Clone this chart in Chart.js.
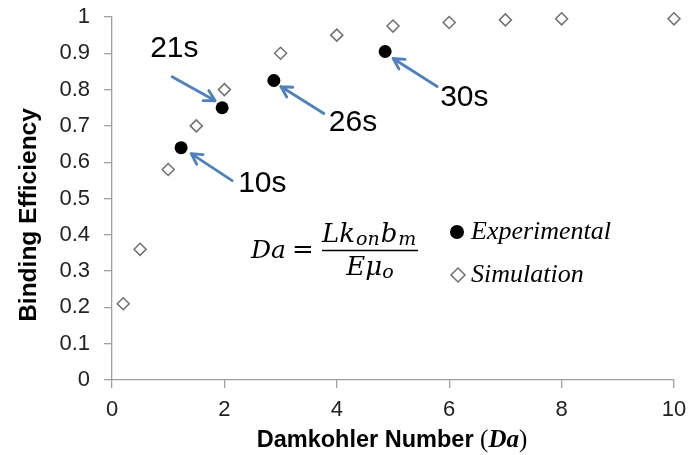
<!DOCTYPE html>
<html>
<head>
<meta charset="utf-8">
<script src="https://cdn.jsdelivr.net/npm/chart.js@4.4.1/dist/chart.umd.min.js"></script>
<style>
  html, body { margin: 0; padding: 0; background: #fff; }
  #wrap { width: 689px; height: 455px; position: relative; }
</style>
</head>
<body>
<div id="wrap"><canvas id="efficiencyChart"></canvas></div>
<script>
/* Binding efficiency vs. Damkohler number – simulation curve + experimental points */

const simDa  = [0.2, 0.5, 1, 1.5, 2, 3, 4, 5, 6, 7, 8, 10];
const simEff = [0.21, 0.36, 0.58, 0.70, 0.80, 0.90, 0.95, 0.975, 0.985, 0.992, 0.995, 0.995];

const expDa    = [1.23, 1.96, 2.88, 4.86];
const expEff   = [0.64, 0.75, 0.825, 0.905];
const expTimes = ['10s', '21s', '26s', '30s'];

const xTicks = [0, 2, 4, 6, 8, 10];
const yTicks = [0, 0.1, 0.2, 0.3, 0.4, 0.5, 0.6, 0.7, 0.8, 0.9, 1];

const AXIS_GREY  = '#a0a0a0';
const ARROW_BLUE = '#4f81bd';
const SANS  = "'Liberation Sans', Arial, sans-serif";
const SERIF = "'Liberation Serif', 'Times New Roman', serif";
const MATH  = "'DejaVu Serif', serif";

/* pixel offsets (from each experimental point) for arrow head, arrow tail, label */
const calloutLayout = [
  { head: [10, 6],  tail: [51, 33],   text: [57, 44] },
  { head: [-7, -7], tail: [-50, -31], text: [-72, -51] },
  { head: [7, 6],   tail: [50, 33],   text: [55, 50] },
  { head: [8, 7],   tail: [52, 35],   text: [55, 55] }
];

function drawArrow(ctx, x0, y0, x1, y1) {
  const ang = Math.atan2(y1 - y0, x1 - x0);
  const len = 12, spread = 0.5;
  ctx.beginPath();
  ctx.moveTo(x0, y0);
  ctx.lineTo(x1, y1);
  ctx.moveTo(x1 - len * Math.cos(ang - spread), y1 - len * Math.sin(ang - spread));
  ctx.lineTo(x1, y1);
  ctx.lineTo(x1 - len * Math.cos(ang + spread), y1 - len * Math.sin(ang + spread));
  ctx.stroke();
}

/* Callout arrows with timestamps */
const calloutPlugin = {
  id: 'callouts',
  afterDatasetsDraw(chart) {
    const ctx = chart.ctx;
    const pts = chart.getDatasetMeta(0).data;
    ctx.save();
    ctx.strokeStyle = ARROW_BLUE;
    ctx.lineWidth = 2.8;
    ctx.lineCap = 'round';
    ctx.lineJoin = 'round';
    ctx.fillStyle = '#000';
    ctx.font = '30px ' + SANS;
    ctx.textBaseline = 'alphabetic';
    pts.forEach((p, i) => {
      const c = calloutLayout[i];
      drawArrow(ctx, p.x + c.tail[0], p.y + c.tail[1], p.x + c.head[0], p.y + c.head[1]);
      ctx.fillText(expTimes[i], p.x + c.text[0], p.y + c.text[1]);
    });
    ctx.restore();
  }
};

/* Equation, legend and axis titles */
const decorPlugin = {
  id: 'decor',
  afterDraw(chart) {
    const ctx = chart.ctx;
    ctx.save();
    ctx.fillStyle = '#000';
    ctx.textBaseline = 'alphabetic';

    // Da = L k_on b_m / (E mu_o)
    const big = 'italic 26px ' + MATH, small = 'italic 19px ' + MATH;
    ctx.font = 'italic 25px ' + MATH;
    ctx.fillText('Da', 251, 258);
    ctx.font = '26px ' + MATH;
    ctx.fillText('=', 292, 258);
    let x = 322;
    const numParts = [['Lk', big, 0], ['on', small, 3], ['b', big, 0], ['m', small, 3]];
    numParts.forEach(([t, f, dy]) => {
      ctx.font = f;
      ctx.fillText(t, x, 242 + dy);
      x += ctx.measureText(t).width + 1;
    });
    const barEnd = Math.max(x, 418);
    ctx.strokeStyle = '#000';
    ctx.lineWidth = 1.5;
    ctx.beginPath();
    ctx.moveTo(322, 250.5);
    ctx.lineTo(barEnd, 250.5);
    ctx.stroke();
    ctx.font = big;
    const wE = ctx.measureText('Eμ').width;
    ctx.font = small;
    const wo = ctx.measureText('o').width;
    const dx = (322 + barEnd) / 2 - (wE + wo) / 2;
    ctx.font = big;
    ctx.fillText('Eμ', dx, 275);
    ctx.font = small;
    ctx.fillText('o', dx + wE, 278);

    // legend
    const sim = chart.data.datasets[1];
    ctx.beginPath();
    ctx.arc(457, 232, 7, 0, Math.PI * 2);
    ctx.fill();
    ctx.beginPath();
    ctx.moveTo(458, 268); ctx.lineTo(465, 275); ctx.lineTo(458, 282); ctx.lineTo(451, 275);
    ctx.closePath();
    ctx.fillStyle = sim.backgroundColor;
    ctx.fill();
    ctx.strokeStyle = sim.borderColor;
    ctx.lineWidth = sim.borderWidth;
    ctx.stroke();
    ctx.fillStyle = '#000';
    ctx.font = 'italic 26px ' + SERIF;
    ctx.fillText(chart.data.datasets[0].label, 471, 239);
    ctx.fillText(sim.label, 471, 282);

    // y title
    ctx.save();
    ctx.translate(29, 215);
    ctx.rotate(-Math.PI / 2);
    ctx.font = 'bold 24.5px ' + SANS;
    ctx.textAlign = 'center';
    ctx.textBaseline = 'middle';
    ctx.fillText('Binding Efficiency', 0, 0);
    ctx.restore();

    // x title: bold sans text with italic serif symbol
    const t1 = 'Damkohler Number ', t2 = '(', t3 = 'Da', t4 = ')';
    const f1 = 'bold 23.5px ' + SANS, f2 = '25px ' + SERIF, f3 = 'italic bold 25px ' + SERIF;
    ctx.font = f1; const w1 = ctx.measureText(t1).width;
    ctx.font = f2; const w2 = ctx.measureText(t2).width, w4 = ctx.measureText(t4).width;
    ctx.font = f3; const w3 = ctx.measureText(t3).width;
    let tx = 392 - (w1 + w2 + w3 + w4) / 2;
    const ty = 447;
    ctx.font = f1; ctx.fillText(t1, tx, ty); tx += w1;
    ctx.font = f2; ctx.fillText(t2, tx, ty); tx += w2;
    ctx.font = f3; ctx.fillText(t3, tx, ty); tx += w3;
    ctx.font = f2; ctx.fillText(t4, tx, ty);
    ctx.restore();
  }
};

const axisStyle = {
  grid: { drawOnChartArea: false, drawTicks: true, tickLength: 8, color: AXIS_GREY, lineWidth: 1.3 },
  border: { display: true, color: AXIS_GREY, width: 1.3 }
};

new Chart(document.getElementById('efficiencyChart'), {
  type: 'scatter',
  data: {
    datasets: [
      {
        label: 'Experimental',
        data: expDa.map((v, i) => ({ x: v, y: expEff[i] })),
        pointStyle: 'circle',
        pointRadius: 6.5,
        backgroundColor: '#000',
        borderColor: '#000',
        borderWidth: 0,
        clip: false
      },
      {
        label: 'Simulation',
        data: simDa.map((v, i) => ({ x: v, y: simEff[i] })),
        pointStyle: 'rectRot',
        pointRadius: 6,
        backgroundColor: '#fff',
        borderColor: '#707070',
        borderWidth: 1.5,
        clip: false
      }
    ]
  },
  options: {
    responsive: true,
    maintainAspectRatio: false,
    animation: false,
    layout: { padding: { top: 17, right: 15, left: 0, bottom: 0 } },
    plugins: { legend: { display: false }, tooltip: { enabled: false } },
    scales: {
      x: {
        type: 'linear', min: 0, max: 10,
        afterBuildTicks: s => { s.ticks = xTicks.map(v => ({ value: v })); },
        // fixed axis box; drop the label overhang so the plot area is set by layout padding
        afterFit: s => { s.height = 75; s.paddingLeft = 0; s.paddingRight = 0; },
        ticks: { font: { family: SANS, size: 22 }, color: '#222', padding: 9, maxRotation: 0, callback: v => String(v) },
        ...axisStyle
      },
      y: {
        type: 'linear', min: 0, max: 1,
        afterBuildTicks: s => { s.ticks = yTicks.map(v => ({ value: v })); },
        afterFit: s => { s.width = 112; s.paddingTop = 0; s.paddingBottom = 0; },
        ticks: { font: { family: SANS, size: 22 }, color: '#222', padding: 14, callback: v => String(v) },
        ...axisStyle
      }
    }
  },
  plugins: [calloutPlugin, decorPlugin]
});
</script>
</body>
</html>
